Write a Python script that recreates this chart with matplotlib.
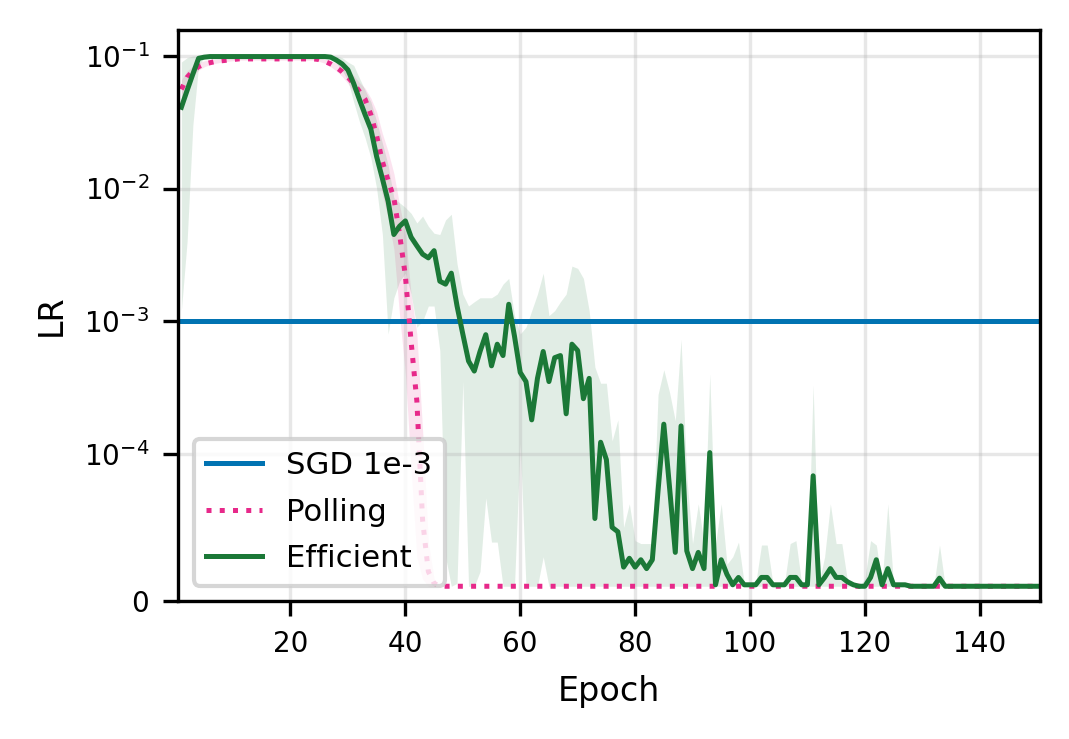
import numpy as np
import matplotlib.pyplot as plt
from matplotlib.ticker import NullLocator

# data (one value per epoch, 1..150)
epochs = np.arange(1, 151)

sgd_lr = [1e-3] * 150

polling = (
    [0.056, 0.069, 0.077, 0.083, 0.087, 0.089, 0.091, 0.092, 0.093, 0.094]
    + [0.095] * 14
    + [0.094, 0.091, 0.087, 0.082, 0.076, 0.069, 0.062, 0.054, 0.047, 0.036,
       0.025, 0.016, 0.0115, 0.0085, 0.0045, 0.0022, 0.0007, 0.00025, 5.5e-5, 2e-5,
       1.2e-5]
    + [1e-5] * 105
)
polling_lo = (
    [0.046, 0.061, 0.071, 0.078, 0.083, 0.086, 0.088, 0.090, 0.091, 0.092]
    + [0.093] * 14
    + [0.091, 0.088, 0.083, 0.077, 0.070, 0.062, 0.054, 0.046, 0.037, 0.026,
       0.016, 0.009, 0.006, 0.0035, 0.0011, 0.0004, 9e-5, 3e-5, 1.5e-5, 1e-5,
       1e-5]
    + [1e-5] * 105
)
polling_hi = (
    [0.066, 0.077, 0.084, 0.089, 0.092, 0.094, 0.095, 0.096, 0.097, 0.098]
    + [0.098] * 14
    + [0.097, 0.095, 0.092, 0.088, 0.083, 0.077, 0.071, 0.063, 0.057, 0.048,
       0.038, 0.026, 0.019, 0.013, 0.0075, 0.0045, 0.0016, 0.0008, 0.00015, 4e-5,
       1.5e-5]
    + [1e-5] * 105
)

efficient = (
    [0.041, 0.055, 0.073, 0.096, 0.098, 0.099]
    + [0.099] * 20
    + [0.098, 0.093, 0.087, 0.0785, 0.062, 0.047, 0.036, 0.028, 0.0174, 0.0119,
       0.0080, 0.0045, 0.0052, 0.0057, 0.0043, 0.0037, 0.0032, 0.0030, 0.0034, 0.0020,
       0.0019, 0.0023, 0.0013, 0.0008]
    + [5.0e-4, 4.2e-4, 5.9e-4, 7.9e-4, 4.6e-4, 6.7e-4, 5.5e-4, 1.34e-3, 7.7e-4, 4.1e-4,
       3.5e-4, 1.8e-4, 3.7e-4, 5.9e-4, 3.5e-4, 5.3e-4, 5.5e-4, 2.0e-4, 6.7e-4, 6.0e-4,
       2.6e-4, 3.7e-4]
    + [5.6e-5, 1.22e-4, 9.6e-5, 5.0e-5, 4.7e-5, 2.3e-5, 2.9e-5, 2.3e-5, 2.8e-5, 2.2e-5,
       2.8e-5, 7.5e-5, 1.67e-4, 7.7e-5, 3.3e-5, 1.62e-4, 3.4e-5, 2.2e-5, 3.3e-5, 2.2e-5,
       1.02e-4]
    + [1.1e-5, 2.8e-5, 1.8e-5, 1.1e-5, 1.6e-5, 1.1e-5, 1.1e-5, 1.1e-5, 1.6e-5, 1.6e-5,
       1.1e-5, 1.1e-5, 1.1e-5, 1.6e-5, 1.6e-5, 1.1e-5, 1.1e-5, 8.5e-5, 1.1e-5, 1.6e-5,
       2.2e-5, 1.6e-5, 1.6e-5, 1.3e-5]
    + [1.1e-5, 1.0e-5, 1.0e-5, 1.6e-5, 2.8e-5, 1.1e-5, 2.2e-5, 1.1e-5, 1.1e-5, 1.1e-5,
       1.0e-5, 1.0e-5, 1.0e-5, 1.0e-5, 1.0e-5, 1.55e-5]
    + [1.0e-5] * 17
)
efficient_lo = (
    [0.0012, 0.004, 0.03, 0.085]
    + [0.097] * 23
    + [0.088, 0.078, 0.065, 0.045, 0.032, 0.024, 0.017, 0.010, 0.0045, 0.0008,
       0.0015, 0.002, 0.0023, 0.0016, 0.0009, 0.001, 0.0013, 0.0013, 0.0006]
    + [3e-5, 1e-5, 1.2e-5, 3.5e-4, 1e-5, 1e-5, 2e-5, 7e-5, 4e-5, 4e-5,
       1e-5, 1e-5, 1e-5, 1.2e-4, 1e-5, 1e-5, 1e-5, 3e-5]
    + [1e-5] * 86
)
efficient_hi = (
    [0.09, 0.097]
    + [0.1] * 26
    + [0.097, 0.09, 0.085, 0.068, 0.055, 0.045, 0.032, 0.022, 0.015, 0.0085,
       0.0078, 0.0072, 0.0065, 0.0055, 0.0062, 0.0052, 0.0046, 0.0045, 0.0058, 0.0064,
       0.0027, 0.0016]
    + [1.3e-3, 1.4e-3, 1.5e-3, 1.5e-3, 1.5e-3, 1.6e-3, 1.9e-3, 2.1e-3, 1.1e-3, 8e-4,
       9e-4, 1.2e-3, 1.6e-3, 2.3e-3, 1.1e-3, 1.2e-3, 1.4e-3, 1.6e-3, 2.6e-3, 2.5e-3,
       2.1e-3, 1.2e-3]
    + [4.5e-4, 3.4e-4, 3.4e-4, 1.25e-4, 1.8e-4, 5e-5, 6.6e-5, 4.1e-5, 3.9e-5, 3.9e-5,
       3.9e-5, 2.8e-4, 4.3e-4, 2.9e-4, 1.77e-4, 7.3e-4, 8.4e-5, 3.9e-5, 6.6e-5, 3.9e-5,
       4.0e-4]
    + [3.9e-5, 6.6e-5, 2.5e-5, 3.0e-5, 4.0e-5, 1.2e-5, 1.2e-5, 1.2e-5, 3.8e-5, 3.8e-5,
       1.2e-5, 1.2e-5, 1.2e-5, 3.9e-5, 4.1e-5, 1.2e-5, 1.2e-5, 3.3e-4, 1.2e-5, 3.0e-5,
       6.6e-5, 3.9e-5, 3.9e-5, 1.3e-5]
    + [1.1e-5, 1.0e-5, 1.5e-5, 4.1e-5, 3.8e-5, 1.2e-5, 6.6e-5, 1.1e-5, 1.1e-5, 1.1e-5,
       1.0e-5, 1.0e-5, 1.0e-5, 1.0e-5, 1.0e-5, 3.8e-5]
    + [1.0e-5] * 17
)

yticks = [0, 1e-4, 1e-3, 1e-2, 1e-1]

plt.rcParams['font.size'] = 8

fig, ax = plt.subplots(figsize=(1069 / 300, 739 / 300), dpi=300)
fig.subplots_adjust(left=178.5 / 1069, right=1040 / 1069,
                    bottom=1 - 601 / 739, top=1 - 30 / 739)

ax.plot(epochs, sgd_lr, color='#0173b2', lw=1.2, label='SGD 1e-3')
ax.plot(epochs, polling, color='#e7298a', lw=1.2, ls=':', label='Polling')
ax.fill_between(epochs, polling_lo, polling_hi, color='#e7298a', alpha=0.13, lw=0)
ax.plot(epochs, efficient, color='#1b7837', lw=1.2, label='Efficient')
ax.fill_between(epochs, efficient_lo, efficient_hi, color='#1b7837', alpha=0.13, lw=0)

ax.set_yscale('symlog', linthresh=1e-4)
ax.set_ylim(0, 0.157)
ax.set_xlim(0.5, 150.5)
ax.set_yticks(yticks)
ax.yaxis.set_minor_locator(NullLocator())
ax.tick_params(labelsize=6.7)
ax.grid(alpha=0.3)

ax.set_xlabel('Epoch')
ax.set_ylabel('LR')
ax.legend(loc='lower left', fontsize=7.4, handlelength=1.8, labelspacing=0.57)

fig.savefig('out.png', dpi=300)
